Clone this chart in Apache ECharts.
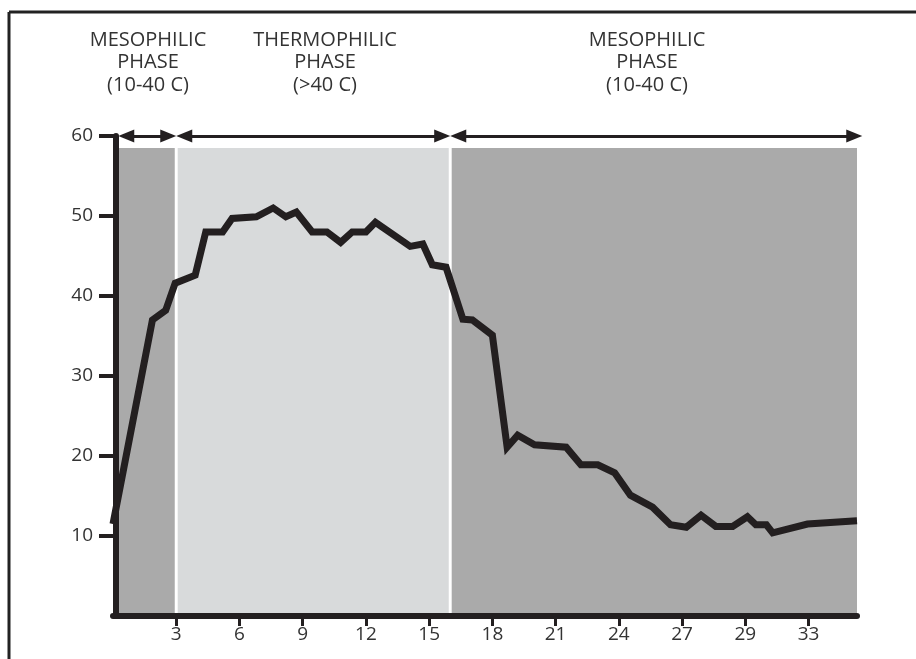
<!DOCTYPE html>
<html>
<head>
<meta charset="utf-8">
<script src="https://cdn.jsdelivr.net/npm/echarts@6/dist/echarts.min.js"></script>
<style>
html,body{margin:0;padding:0;background:#fff;}
#chart{width:916px;height:659px;}
</style>
</head>
<body>
<div id="chart"></div>
<script>
// Compost temperature curve (day vs temperature)
const dayX = [0, 1.87, 2.5, 2.95, 3.9, 4.4, 5.2, 5.65, 6.8, 7.6, 8.2, 8.7, 9.45, 10.15, 10.8, 11.35, 12.0, 12.45, 14.1, 14.7, 15.15, 15.8, 16.6, 17.05, 18.0, 18.7, 19.2, 20.0, 21.5, 22.2, 23.0, 23.8, 24.55, 25.6, 26.45, 27.2, 27.9, 28.6, 29.4, 30.1, 30.5, 31.0, 31.3, 32.95, 35.3];
const tempY = [11.5, 37, 38.2, 41.6, 42.6, 48, 48, 49.7, 49.9, 51, 49.9, 50.5, 48, 48, 46.7, 48, 48, 49.2, 46.2, 46.5, 43.9, 43.6, 37.1, 37, 35.1, 21.1, 22.6, 21.4, 21.1, 18.9, 18.9, 17.9, 15.1, 13.6, 11.4, 11.1, 12.6, 11.2, 11.2, 12.4, 11.4, 11.4, 10.4, 11.5, 11.9];

// x tick positions and their printed labels
const xTickPos = [3, 6, 9, 12, 15, 18, 21, 24, 27, 30, 33];
const xTickLabels = ['3', '6', '9', '12', '15', '18', '21', '24', '27', '29', '33'];
const yTickPos = [10, 20, 30, 40, 50, 60];

// phases: start/end day
const phaseStart = [0, 3, 16];
const phaseEnd = [3, 16, 35.3];
const phaseNames = ['MESOPHILIC\nPHASE\n(10-40 C)', 'THERMOPHILIC\nPHASE\n(>40 C)', 'MESOPHILIC\nPHASE\n(10-40 C)'];
const phaseTop = 58.5;
const arrowLevel = 60;

const X_MAX = 35.3;
const phaseColors = ['#aaaaaa', '#d8dadb', '#aaaaaa'];
const gap = 0.07;

const chart = echarts.init(document.getElementById('chart'));

const areas = phaseStart.map((s, i) => [
  { xAxis: s + (i > 0 ? gap : 0), yAxis: 0, itemStyle: { color: phaseColors[i] } },
  { xAxis: phaseEnd[i] - (i < phaseStart.length - 1 ? gap : 0), yAxis: phaseTop }
]);

const arrowInset = 0.33;
const arrows = phaseStart.map((s, i) => [
  { coord: [s + (i === 0 ? 0.3 : 0.05) + arrowInset, arrowLevel] },
  { coord: [phaseEnd[i] - (i === phaseStart.length - 1 ? -0.2 : 0.05) - arrowInset, arrowLevel] }
]);

const textColor = '#333333';
const font = '"Open Sans", "DejaVu Sans", sans-serif';
const labelX = [148, 325, 647];

chart.setOption({
  animation: false,
  backgroundColor: '#ffffff',
  grid: { left: 113, right: 59, top: 136, bottom: 43 },
  xAxis: {
    type: 'value', min: 0, max: X_MAX, z: 5,
    axisLine: { show: true, lineStyle: { color: '#231f20', width: 6 } },
    axisTick: { show: true, customValues: xTickPos, length: 10, lineStyle: { color: '#231f20', width: 3 } },
    axisLabel: {
      customValues: xTickPos, margin: 9, color: textColor, fontSize: 19, fontFamily: font,
      formatter: v => { const i = xTickPos.indexOf(Math.round(v)); return i >= 0 ? xTickLabels[i] : ''; }
    },
    splitLine: { show: false }
  },
  yAxis: {
    type: 'value', min: 0, max: 60, interval: 10, offset: -3, z: 5,
    axisLine: { show: true, lineStyle: { color: '#231f20', width: 6 } },
    axisTick: { show: true, customValues: yTickPos, length: 17, lineStyle: { color: '#231f20', width: 4 } },
    axisLabel: { customValues: yTickPos, margin: 23, color: textColor, fontSize: 19, fontFamily: font },
    splitLine: { show: false }
  },
  graphic: phaseNames.map((t, i) => ({
    type: 'text',
    x: labelX[i], y: 29,
    style: {
      text: t, fill: textColor, font: '20px ' + font,
      align: 'center', textAlign: 'center', verticalAlign: 'top', lineHeight: 22.5
    }
  })).concat([
    { type: 'line', shape: { x1: 9, y1: 12, x2: 916, y2: 12 }, style: { stroke: '#222', lineWidth: 3 } },
    { type: 'line', shape: { x1: 9, y1: 12, x2: 9, y2: 659 }, style: { stroke: '#222', lineWidth: 3 } }
  ]),
  series: [
    {
      type: 'line', data: [], z: 1, silent: true,
      markArea: { silent: true, data: areas, label: { show: false } },
      markLine: {
        silent: true, symbol: ['triangle', 'triangle'], symbolSize: [13, 16],
        label: { show: false },
        lineStyle: { color: '#231f20', width: 3, type: 'solid' },
        data: arrows
      }
    },
    {
      type: 'line', z: 3,
      data: dayX.map((x, i) => [x, tempY[i]]),
      showSymbol: false, symbol: 'none',
      lineStyle: { color: '#231f20', width: 7, join: 'miter', cap: 'butt' }
    }
  ]
});
</script>
</body>
</html>
